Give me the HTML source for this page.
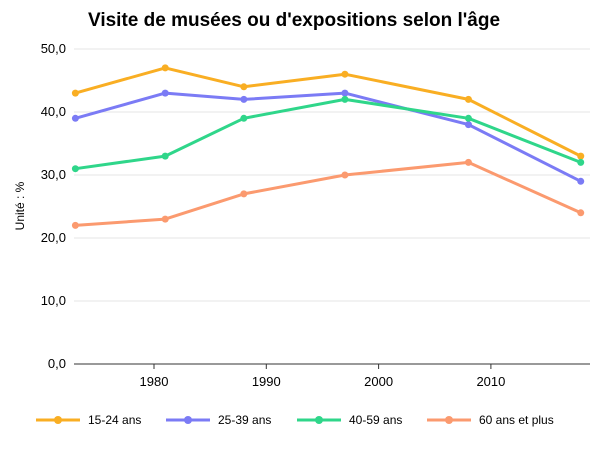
<!DOCTYPE html>
<html><head><meta charset="utf-8"><style>
body{margin:0;background:#fff;font-family:"Liberation Sans",sans-serif;}
svg text{font-family:"Liberation Sans",sans-serif;}
</style></head><body>
<svg id="chart" width="600" height="450">
<text x="88" y="26" font-size="19" font-weight="bold" fill="#000">Visite de musées ou d'expositions selon l'âge</text>
<text transform="translate(24,206) rotate(-90)" text-anchor="middle" font-size="12" fill="#000">Unité : %</text>
<g id="grid"></g><g id="xaxis"></g><g id="series"></g><g id="legend"></g>
</svg>
<script>
const years=[1973,1981,1988,1997,2008,2018];
const seriesNames=["15-24 ans","25-39 ans","40-59 ans","60 ans et plus"];
const s1524=[43,47,44,46,42,33];
const s2539=[39,43,42,43,38,29];
const s4059=[31,33,39,42,39,32];
const s60=[22,23,27,30,32,24];
const yTicks=[0,10,20,30,40,50];
const yTickLabels=["0,0","10,0","20,0","30,0","40,0","50,0"];
const xTicks=[1980,1990,2000,2010];
const colors=["#f9ae23","#7b7bf5","#2fd68a","#fb9a6f"];
const allSeries=[s1524,s2539,s4059,s60];
const NS="http://www.w3.org/2000/svg";
const x=v=>154+(v-1980)*11.23;
const y=v=>364-v*6.3;
function mk(t,a,p){const e=document.createElementNS(NS,t);for(const k in a)e.setAttribute(k,a[k]);p.appendChild(e);return e;}
const g=document.getElementById('grid');
yTicks.forEach((t,i)=>{
 const l=mk('line',{x1:74,x2:590,y1:y(t),y2:y(t),stroke:t===0?'#333':'#e4e4e4','stroke-width':1},g);
 
 
 const tx=mk('text',{x:66,y:y(t)+4,'text-anchor':'end','font-size':13,fill:'#000'},g);
 tx.textContent=yTickLabels[i];
 
 
});
const xa=document.getElementById('xaxis');
xTicks.forEach(t=>{
 const l=mk('line',{x1:x(t),x2:x(t),y1:364,y2:369,stroke:'#333'},xa);
 
 
 const tx=mk('text',{x:x(t),y:386,'text-anchor':'middle','font-size':13,fill:'#000'},xa);
 tx.textContent=t;
 
 
});
const sg=document.getElementById('series');
allSeries.forEach((s,i)=>{
 const p=mk('polyline',{points:s.map((v,j)=>x(years[j])+','+y(v)).join(' '),fill:'none',stroke:colors[i],'stroke-width':3,'stroke-linejoin':'round'},sg);
 
 
 s.forEach((v,j)=>{
  const c=mk('circle',{cx:x(years[j]),cy:y(v),r:3.5,fill:colors[i]},sg);
  
  
 });
});
const lg=document.getElementById('legend');
const lx=[36,166,297,427];
seriesNames.forEach((n,i)=>{
 const gg=mk('g',{},lg);
 
 
 mk('line',{x1:lx[i],x2:lx[i]+44,y1:420,y2:420,stroke:colors[i],'stroke-width':3},gg);
 mk('circle',{cx:lx[i]+22,cy:420,r:4,fill:colors[i]},gg);
 const t=mk('text',{x:lx[i]+52,y:424,'font-size':12,fill:'#000'},gg);
 t.textContent=n;
});
</script>
</body></html>
